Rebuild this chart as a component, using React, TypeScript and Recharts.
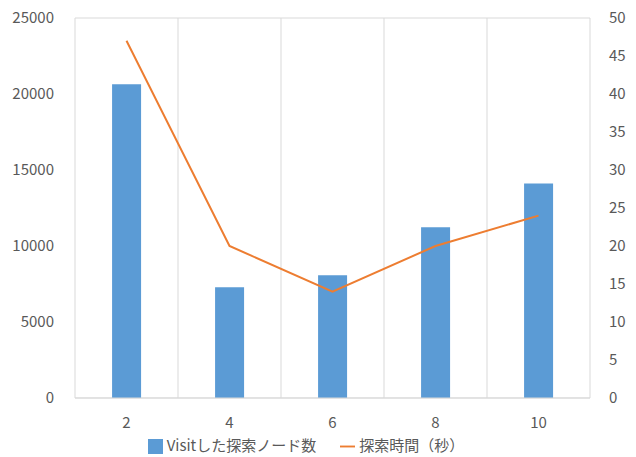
import React from 'react';
import { Bar, CartesianGrid, ComposedChart, Legend, Line, XAxis, YAxis } from 'recharts';

const categories = ['2', '4', '6', '8', '10'];
const visitedNodes = [20640, 7280, 8070, 11230, 14120];
const searchSeconds = [47, 20, 14, 20, 24];
const leftTicks = [0, 5000, 10000, 15000, 20000, 25000];
const rightTicks = [0, 5, 10, 15, 20, 25, 30, 35, 40, 45, 50];

const data = categories.map((c, i) => ({
  n: c,
  nodes: visitedNodes[i],
  time: searchSeconds[i],
}));

const font = '"Noto Sans CJK JP", "Noto Sans", sans-serif';
const tickStyle = { fill: '#595959', fontSize: 15, fontFamily: font };

export default function App() {
  return (
    <div style={{ position: 'absolute', left: 0, top: 0, fontFamily: font }}>
      <ComposedChart
        width={636}
        height={457}
        data={data}
        margin={{ top: 18, right: 0, left: 0, bottom: 0 }}
        barCategoryGap="36%"
      >
        <CartesianGrid
          stroke="#d9d9d9"
          verticalCoordinatesGenerator={({ offset }: any) =>
            categories.map((_, i) => offset.left + (i * offset.width) / categories.length).concat(offset.left + offset.width)
          }
        />
        <XAxis
          dataKey="n"
          axisLine={{ stroke: '#d9d9d9' }}
          tickLine={false}
          tick={tickStyle}
          tickMargin={13}
          height={36}
        />
        <YAxis
          yAxisId="left"
          domain={[0, 25000]}
          ticks={leftTicks}
          axisLine={false}
          tickLine={false}
          tick={tickStyle}
          tickMargin={15}
          width={75}
        />
        <YAxis
          yAxisId="right"
          orientation="right"
          domain={[0, 50]}
          ticks={rightTicks}
          axisLine={false}
          tickLine={false}
          tick={tickStyle}
          tickMargin={13}
          width={46}
        />
        <Legend
          verticalAlign="bottom"
          height={23}
          iconSize={15}
          wrapperStyle={{ fontSize: 15, lineHeight: '22px', fontFamily: font }}
          formatter={(value) => (
            <span style={{ color: '#595959', marginRight: 14 }}>{value}</span>
          )}
        />
        <Bar
          yAxisId="left"
          dataKey="nodes"
          name="Visitした探索ノード数"
          fill="#5b9bd5"
          legendType="square"
          isAnimationActive={false}
        />
        <Line
          yAxisId="right"
          type="linear"
          dataKey="time"
          name="探索時間（秒）"
          stroke="#ed7d31"
          strokeWidth={2}
          dot={false}
          legendType="plainline"
          isAnimationActive={false}
        />
      </ComposedChart>
    </div>
  );
}
